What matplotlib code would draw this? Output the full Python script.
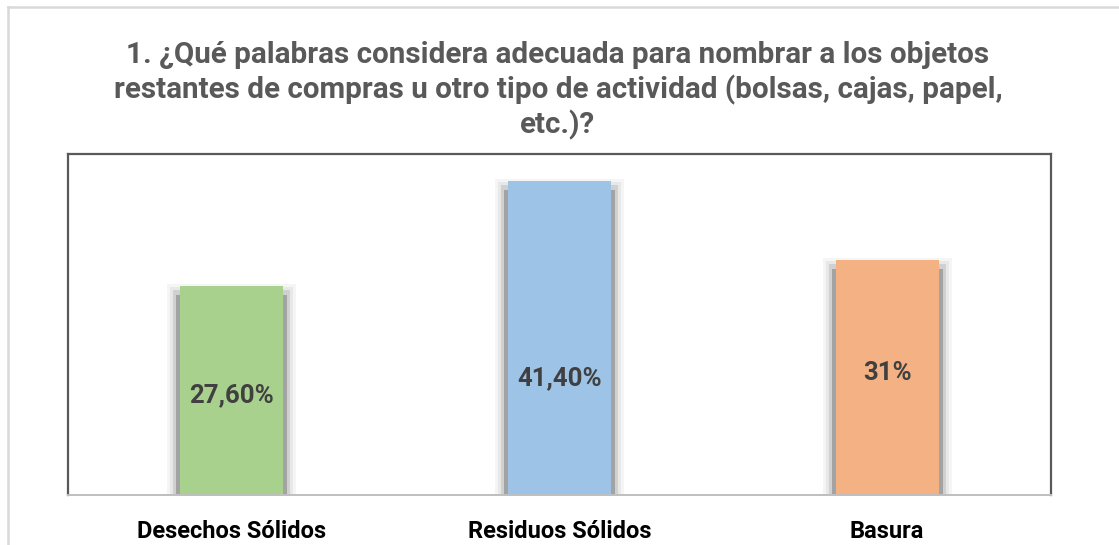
import matplotlib.pyplot as plt
from matplotlib.lines import Line2D

# data
categories = ['Desechos Sólidos', 'Residuos Sólidos', 'Basura']
values = [27.6, 41.4, 31.0]
value_labels = ['27,60%', '41,40%', '31%']
bar_colors = ['#a9d18e', '#9dc3e6', '#f4b183']
title_lines = [
    '1. ¿Qué palabras considera adecuada para nombrar a los objetos',
    'restantes de compras u otro tipo de actividad (bolsas, cajas, papel,',
    'etc.)?',
]
# label heights (data units), the labels were moved by hand in the original
label_pos = [13.2, 15.4, 16.1]

W, H = 1119, 545
plt.rcParams['font.family'] = ['Roboto', 'DejaVu Sans']

fig = plt.figure(figsize=(W / 100, H / 100), dpi=100)
ax = fig.add_axes([68 / W, 50 / H, 983 / W, 341 / H])

ymax = 45
ax.set_xlim(-0.5, 2.5)
ax.set_ylim(0, ymax)
px_x = 3.0 / 983
px_y = ymax / 341.0

bar_w = 0.314
x = list(range(len(categories)))

# soft gray shadow around each bar (like the Excel effect)
shadow_layers = [(13, -2, '#f5f5f5'), (10, 1, '#e8e8e8'), (7, 4, '#d0d0d0'), (4, 9, '#a3a3a3')]
for xi, v in zip(x, values):
    for grow, drop, col in shadow_layers:
        ax.bar(xi, v - drop * px_y, width=bar_w + 2 * grow * px_x, color=col, zorder=2)

ax.bar(x, values, width=bar_w, color=bar_colors, zorder=3)
ax.bar(x, [0.35] * 3, width=bar_w, bottom=-0.25, color='#262626', zorder=2.5)

for xi, lab, ly in zip(x, value_labels, label_pos):
    ax.text(xi, ly, lab, ha='center', va='center', fontsize=18.5, fontweight='bold',
            color='#404040', zorder=4)

ax.set_xticks(x)
ax.set_xticklabels(categories, fontsize=17, fontweight='bold', color='black')
ax.tick_params(axis='x', length=0, pad=18)
ax.set_yticks([])

for side in ['left', 'top', 'right']:
    ax.spines[side].set_color('#595959')
    ax.spines[side].set_linewidth(1.6)
ax.spines['bottom'].set_color('#bfbfbf')
ax.spines['bottom'].set_linewidth(1.4)
ax.spines['bottom'].set_zorder(5)

# title, one line at a time (baselines in pixels from the top)
for line, base in zip(title_lines, [63, 98, 133]):
    fig.text(0.4987, 1 - base / H, line, ha='center', va='baseline', fontsize=21.3,
             fontweight='bold', color='#595959')

# outer chart frame, cut off at right and bottom
fig.add_artist(Line2D([8 / W, 8 / W], [0, 1 - 7 / H], color='#d9d9d9', lw=1.8))
fig.add_artist(Line2D([8 / W, 1], [1 - 7 / H, 1 - 7 / H], color='#d9d9d9', lw=1.8))

fig.savefig('out.png', dpi=100, facecolor='white')
